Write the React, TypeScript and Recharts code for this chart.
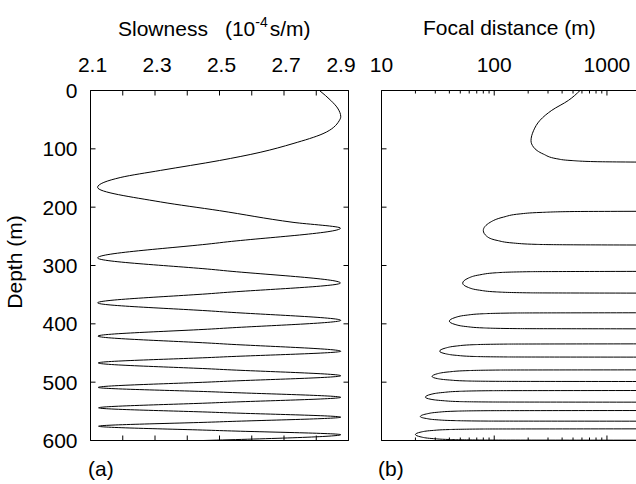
import { ScatterChart, Scatter, XAxis, YAxis } from "recharts"

const W = 636
const H = 484
const FONT = "'Liberation Sans', Arial, Helvetica, sans-serif"

// depth axis (m), shared by both panels, drawn downwards
const depthTicks = [0, 100, 200, 300, 400, 500, 600]

// panel (a): slowness in 1e-4 s/m
const slownessTicks = [2.1, 2.2, 2.3, 2.4, 2.5, 2.6, 2.7, 2.8, 2.9]
const slownessLabels = [2.1, 2.3, 2.5, 2.7, 2.9]

// [depth, slowness]: turning points plus the crossings between them
const slownessProfile: [number, number][] = [
  [0, 2.81], [17, 2.845], [30, 2.866], [45, 2.876], [52, 2.871], [74, 2.821],
  [91, 2.728], [106, 2.626], [120, 2.5], [137, 2.317], [149, 2.194], [166, 2.122],
  [191, 2.317], [206, 2.5], [226, 2.728], [236, 2.875],
  [261, 2.5], [287, 2.122],
  [308, 2.5], [330, 2.875],
  [347, 2.5], [364, 2.122],
  [379, 2.5], [394, 2.876],
  [408, 2.5], [421, 2.123],
  [434, 2.5], [447, 2.876],
  [457, 2.5], [467, 2.124],
  [478, 2.5], [489, 2.876],
  [499, 2.5], [509, 2.124],
  [517, 2.5], [526, 2.876],
  [535, 2.5], [544, 2.125],
  [552, 2.5], [560, 2.876],
  [568, 2.5], [575.5, 2.125],
  [583, 2.5], [590, 2.876],
  [600, 2.45],
]

// panel (b): focal distance (m), log axis
const focalTicks = [
  10, 20, 30, 40, 50, 60, 70, 80, 90,
  100, 200, 300, 400, 500, 600, 700, 800, 900, 1000,
]
const focalLabels = [10, 100, 1000]

// each lobe runs off to the right (focal distance -> infinity) at its ends
const focalLoop1: [number, number][] = [
  [0, 577], [17, 455], [34, 324], [51, 255], [69, 223], [86, 212], [97, 223],
  [109, 273], [117, 359], [120, 480], [122, 800], [123, 3000],
]
const focalLoop2: [number, number][] = [
  [207, 3000], [207.5, 500], [209, 260], [211.5, 170], [217, 121], [226, 92], [240, 80],
  [250, 86], [257, 106], [261.5, 148], [263.8, 239], [264.5, 471], [265, 3000],
]
const focalLoop3: [number, number][] = [
  [310, 3000], [310.6, 209], [312.4, 105], [316.1, 74], [321.6, 59], [330.3, 52.5],
  [337.7, 59], [342.3, 74], [345.3, 105], [346.9, 209], [347.4, 3000],
]
const focalLoop4: [number, number][] = [
  [381, 3000], [381.4, 159], [382.7, 80], [385.3, 56], [389.2, 45], [395.4, 40],
  [401.1, 45], [404.6, 56], [407, 80], [408.2, 159], [408.6, 3000],
]
const focalLoop5: [number, number][] = [
  [434.3, 3000], [434.7, 131], [435.8, 65], [438.1, 46], [441.5, 37], [446.9, 32.8],
  [451.3, 37], [454, 46], [455.9, 65], [456.8, 131], [457.1, 3000],
]
const focalLoop6: [number, number][] = [
  [478.9, 3000], [479.2, 112], [480.3, 56], [482.3, 40], [485.4, 31.5], [490.3, 28.1],
  [494, 31.5], [496.3, 40], [497.9, 56], [498.6, 112], [498.9, 3000],
]
const focalLoop7: [number, number][] = [
  [514.3, 3000], [514.6, 97], [515.7, 49], [517.7, 35], [520.8, 27.5], [525.7, 24.5],
  [529.4, 27.5], [531.7, 35], [533.3, 49], [534, 97], [534.3, 3000],
]
const focalLoop8: [number, number][] = [
  [548.6, 3000], [548.9, 88], [549.8, 44], [551.7, 31], [554.5, 25], [558.9, 22.1],
  [562.3, 25], [564.5, 31], [565.9, 44], [566.7, 88], [566.9, 3000],
]
const focalLoop9: [number, number][] = [
  [580, 3000], [580.3, 80], [581.2, 40], [582.9, 28], [585.5, 22.4], [589.7, 20],
  [593.9, 22.4], [596.6, 28], [598.3, 40], [599.2, 80], [599.5, 3000],
]
const focalLoops = [
  focalLoop1, focalLoop2, focalLoop3, focalLoop4, focalLoop5,
  focalLoop6, focalLoop7, focalLoop8, focalLoop9,
]

const toPoints = (rows: [number, number][]) => rows.map(([depth, v]) => ({ depth, v }))

const has = (list: number[] | null, v: number) =>
  !!list && list.some((l) => Math.abs(l - v) < 1e-6)

type Side = "top" | "bottom" | "left" | "right"

// ticks point into the plot, like the original gnuplot frame
function inwardTick(side: Side, labels: number[] | null, majors: number[] | null, fmt = (v: number) => String(v)) {
  return (props: any) => {
    const { x, y, payload } = props
    const v = payload.value as number
    const len = majors && !has(majors, v) ? 3 : 5
    const line = { x1: x, y1: y, x2: x, y2: y }
    if (side === "top") line.y2 = y + len
    if (side === "bottom") line.y2 = y - len
    if (side === "left") line.x2 = x + len
    if (side === "right") line.x2 = x - len
    let text = null
    if (has(labels, v)) {
      if (side === "top") {
        // the last slowness label sits a little left of its tick in the original
        const shift = labels === slownessLabels ? (v > 2.85 ? -7.5 : 2) : 0
        text = (
          <text x={x + shift} y={y - 18.5} textAnchor="middle" fontSize={21} fill="#000" fontFamily={FONT}>
            {fmt(v)}
          </text>
        )
      } else if (side === "left") {
        text = (
          <text x={x - 13} y={y} dy="0.36em" textAnchor="end" fontSize={21} fill="#000" fontFamily={FONT}>
            {fmt(v)}
          </text>
        )
      }
    }
    return (
      <g>
        <line {...line} stroke="#000" strokeWidth={1} />
        {text}
      </g>
    )
  }
}

const noShape = () => <g />
const axisLine = { stroke: "#000", strokeWidth: 1 }

// axes get a 1px size (0 would not render), margins compensate
function SlownessPanel() {
  return (
    <ScatterChart width={W} height={H} margin={{ top: 89.5, left: 89.5, right: W - 348.5 - 1, bottom: H - 440.5 - 1 }}>
      <XAxis xAxisId="top" orientation="top" type="number" dataKey="v" domain={[2.1, 2.9]} allowDataOverflow
        ticks={slownessTicks} interval={0} height={1} tickSize={0} tickMargin={0} tickLine={false}
        axisLine={axisLine} tick={inwardTick("top", slownessLabels, null, (v) => v.toFixed(1))} />
      <XAxis xAxisId="bottom" orientation="bottom" type="number" dataKey="v" domain={[2.1, 2.9]} allowDataOverflow
        ticks={slownessTicks} interval={0} height={1} tickSize={0} tickMargin={0} tickLine={false}
        axisLine={axisLine} tick={inwardTick("bottom", null, null)} />
      <YAxis yAxisId="left" orientation="left" type="number" dataKey="depth" domain={[0, 600]} reversed allowDataOverflow
        ticks={depthTicks} interval={0} width={1} tickSize={0} tickMargin={0} tickLine={false}
        axisLine={axisLine} tick={inwardTick("left", depthTicks, null)} />
      <YAxis yAxisId="right" orientation="right" type="number" dataKey="depth" domain={[0, 600]} reversed allowDataOverflow
        ticks={depthTicks} interval={0} width={1} tickSize={0} tickMargin={0} tickLine={false}
        axisLine={axisLine} tick={inwardTick("right", null, null)} />
      <Scatter xAxisId="top" yAxisId="left" data={toPoints(slownessProfile)} line={{ stroke: "#000", strokeWidth: 1 }}
        lineType="joint" lineJointType="monotoneY" shape={noShape} fill="none" isAnimationActive={false} />
    </ScatterChart>
  )
}

function FocalPanel() {
  return (
    <ScatterChart width={W} height={H} margin={{ top: 89.5, left: 380.5, right: 0, bottom: H - 440.5 - 1 }}>
      <XAxis xAxisId="top" orientation="top" type="number" scale="log" dataKey="v" domain={[10, 1810]} allowDataOverflow
        ticks={focalTicks} interval={0} height={1} tickSize={0} tickMargin={0} tickLine={false}
        axisLine={axisLine} tick={inwardTick("top", focalLabels, focalLabels)} />
      <XAxis xAxisId="bottom" orientation="bottom" type="number" scale="log" dataKey="v" domain={[10, 1810]} allowDataOverflow
        ticks={focalTicks} interval={0} height={1} tickSize={0} tickMargin={0} tickLine={false}
        axisLine={axisLine} tick={inwardTick("bottom", null, focalLabels)} />
      <YAxis yAxisId="left" orientation="left" type="number" dataKey="depth" domain={[0, 600]} reversed allowDataOverflow
        ticks={depthTicks} interval={0} width={1} tickSize={0} tickMargin={0} tickLine={false}
        axisLine={axisLine} tick={inwardTick("left", null, null)} />
      {focalLoops.map((loop, i) => (
        <Scatter key={i} xAxisId="top" yAxisId="left" data={toPoints(loop)} line={{ stroke: "#000", strokeWidth: 1 }}
          lineType="joint" lineJointType="monotoneY" shape={noShape} fill="none" isAnimationActive={false} />
      ))}
    </ScatterChart>
  )
}

export default function App() {
  return (
    <div style={{ position: "absolute", left: 0, top: 0, width: W, height: H, overflow: "hidden", background: "#fff", fontFamily: FONT }}>
      <div style={{ position: "absolute", left: 0, top: 0 }}>
        <SlownessPanel />
      </div>
      <div style={{ position: "absolute", left: 0, top: 0 }}>
        <FocalPanel />
      </div>
      <svg width={W} height={H} style={{ position: "absolute", left: 0, top: 0, pointerEvents: "none" }}
        fontFamily={FONT} fill="#000">
        <text x={118} y={36} fontSize={21}>
          Slowness
          <tspan dx={17}>(10</tspan>
          <tspan dy={-9} fontSize={14}>-4</tspan>
          <tspan dy={9} dx={2}>s/m)</tspan>
        </text>
        <text x={423} y={35} fontSize={21}>Focal distance (m)</text>
        <text x={88} y={476} fontSize={21}>(a)</text>
        <text x={378} y={476} fontSize={21}>(b)</text>
        <text transform="translate(21.5 262) rotate(-90)" textAnchor="middle" fontSize={21}>Depth (m)</text>
      </svg>
    </div>
  )
}
